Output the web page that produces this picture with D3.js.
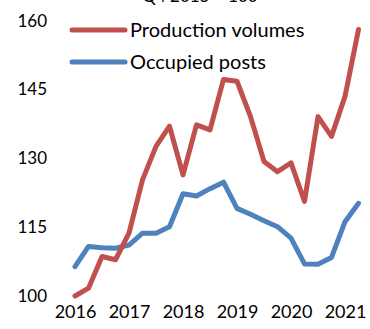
<!DOCTYPE html>
<html>
<head>
<meta charset="utf-8">
<script src="https://cdn.jsdelivr.net/npm/d3@7"></script>
<style>
  html, body { margin: 0; padding: 0; background: #fff; }
  svg { display: block; font-family: Lato, "Open Sans", sans-serif; }
</style>
</head>
<body>
<svg id="chart" width="370" height="329"></svg>
<script>
// Quarterly index, Q4 2015 = 100, Q1 2016 .. Q2 2021
const quarters = d3.range(22);
const production = [100, 101.7, 108.6, 107.9, 113.7, 125.3, 132.6, 137.0, 126.4, 137.3, 136.2, 147.2,
                    146.8, 139.1, 129.3, 127.1, 129.0, 120.6, 139.1, 134.8, 143.5, 158.1];
const posts = [106.4, 110.8, 110.5, 110.4, 111.1, 113.7, 113.7, 115.1, 122.3, 121.8, 123.4, 124.8,
               119.1, 117.8, 116.4, 115.1, 112.6, 107.0, 106.9, 108.4, 116.2, 120.2];
const yearTicks = [0, 4, 8, 12, 16, 20];
const yearLabels = ["2016", "2017", "2018", "2019", "2020", "2021"];
const yTicks = [100, 115, 130, 145, 160];
const seriesNames = ["Production volumes", "Occupied posts"];
const seriesColors = ["#C0504D", "#4F81BD"];

const svg = d3.select("#chart");

const x = d3.scaleLinear().domain([0, 21]).range([75, 358.5]);
const y = d3.scaleLinear().domain([100, 160]).range([296, 20.7]);

// Title (sits above the plot, mostly clipped by the top edge)
svg.append("text")
  .attr("x", 200).attr("y", 2)
  .attr("text-anchor", "middle")
  .attr("font-size", 17)
  .attr("fill", "#000")
  .text("Q4 2015 = 100");

// Y axis: labels only
const yAxis = svg.append("g")
  .attr("transform", "translate(47,0)")
  .call(d3.axisLeft(y).tickValues(yTicks).tickSize(0).tickPadding(0));
yAxis.select(".domain").remove();
yAxis.selectAll("text").attr("font-size", 17).attr("font-family", "Lato, 'Open Sans', sans-serif").attr("fill", "#000");

// X axis: year labels only
const xAxis = svg.append("g")
  .attr("transform", "translate(0,305)")
  .call(d3.axisBottom(x).tickValues(yearTicks).tickFormat((d, i) => yearLabels[i]).tickSize(0).tickPadding(0));
xAxis.select(".domain").remove();
xAxis.selectAll("text").attr("font-size", 18).attr("font-family", "Lato, 'Open Sans', sans-serif").attr("fill", "#000");

const line = d3.line().x((d, i) => x(quarters[i])).y(d => y(d));

[posts, production].forEach((s, k) => {
  svg.append("path")
    .datum(s)
    .attr("d", line)
    .attr("fill", "none")
    .attr("stroke", k === 0 ? seriesColors[1] : seriesColors[0])
    .attr("stroke-width", 5)
    .attr("stroke-linejoin", "round")
    .attr("stroke-linecap", "round");
});

// Legend
const legend = svg.append("g");
seriesNames.forEach((name, i) => {
  const ly = 30 + i * 32;
  legend.append("line")
    .attr("x1", 72).attr("x2", 125)
    .attr("y1", ly).attr("y2", ly)
    .attr("stroke", seriesColors[i])
    .attr("stroke-width", 5)
    .attr("stroke-linecap", "round");
  legend.append("text")
    .attr("x", 130).attr("y", ly)
    .attr("dy", "0.35em")
    .attr("font-size", 20)
    .attr("fill", "#000")
    .text(name);
});
</script>
</body>
</html>
